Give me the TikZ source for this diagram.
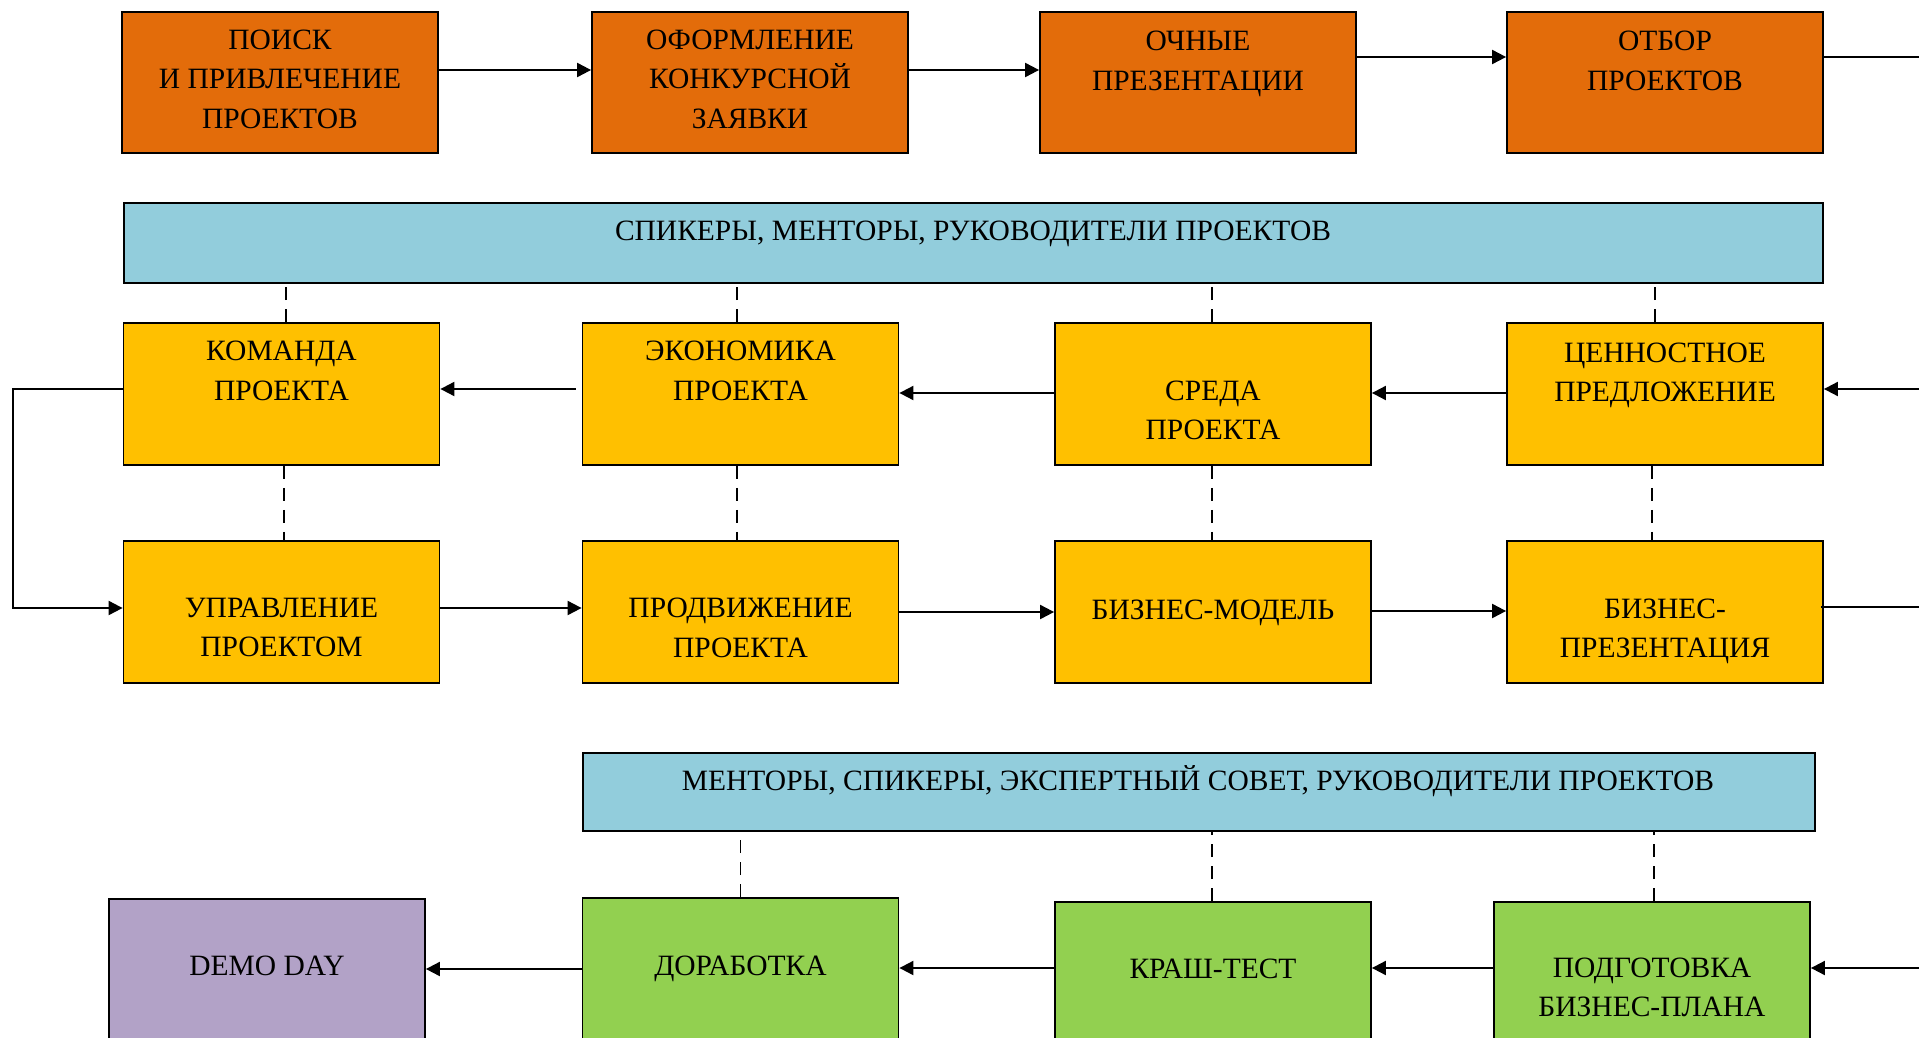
\documentclass[tikz,border=0pt]{standalone}
\usepackage{fontspec}
\setmainfont{Liberation Serif}
\usetikzlibrary{arrows.meta}
\definecolor{orng}{HTML}{E36C0A}
\definecolor{yel}{HTML}{FFC000}
\definecolor{blu}{HTML}{92CDDC}
\definecolor{grn}{HTML}{92D050}
\definecolor{prp}{HTML}{B2A2C7}
\tikzset{
  box/.style={draw=black, line width=1.8pt, minimum width=316pt, minimum height=142pt, inner sep=0pt},
  band/.style={draw=black, line width=1.8pt, inner sep=0pt, fill=blu},
  txt/.style={align=center, inner sep=0pt, font=\fontsize{29.5}{39.5}\selectfont},
  arr/.style={line width=2pt, -{Triangle[length=14pt,width=14pt]}},
  ln/.style={line width=2pt},
  dsh/.style={line width=1.8pt, dash pattern=on 13pt off 9pt},
}
\begin{document}
\begin{tikzpicture}[x=1pt,y=-1pt]
\useasboundingbox (0,0) rectangle (1919,1038);
% row 1
\node[box, fill=orng, minimum height=141pt] (b1) at (280,82.5) {};
\node[box, fill=orng, minimum height=141pt] (b2) at (750,82.5) {};
\node[box, fill=orng, minimum height=141pt] (b3) at (1198,82.5) {};
\node[box, fill=orng, minimum height=141pt] (b4) at (1665,82.5) {};
\node[txt] (b1t) at (280,79) {ПОИСК\\И ПРИВЛЕЧЕНИЕ\\ПРОЕКТОВ};
\node[txt] (b2t) at (750,79) {ОФОРМЛЕНИЕ\\КОНКУРСНОЙ\\ЗАЯВКИ};
\node[txt] (b3t) at (1198,64) {ОЧНЫЕ\\ПРЕЗЕНТАЦИИ};
\node[txt] (b4t) at (1665,61) {ОТБОР\\ПРОЕКТОВ};
% band 1
\node[band, minimum width=1699pt, minimum height=80pt] (s1) at (973.5,243) {};
\node[txt] (s1t) at (973,234) {СПИКЕРЫ, МЕНТОРЫ, РУКОВОДИТЕЛИ ПРОЕКТОВ};
% row 2
\node[box, fill=yel] (k1) at (281.5,394) {};
\node[box, fill=yel] (k2) at (740.5,394) {};
\node[box, fill=yel] (k3) at (1213,394) {};
\node[box, fill=yel] (k4) at (1665,394) {};
\node[txt] (k1t) at (281.5,371) {КОМАНДА\\ПРОЕКТА};
\node[txt] (k2t) at (740.5,371) {ЭКОНОМИКА\\ПРОЕКТА};
\node[txt] (k3t) at (1213,410.5) {СРЕДА\\ПРОЕКТА};
\node[txt] (k4t) at (1665,375.5) {ЦЕННОСТНОЕ\\ПРЕДЛОЖЕНИЕ};
% row 3
\node[box, fill=yel] (u1) at (281.5,612) {};
\node[box, fill=yel] (u2) at (740.5,612) {};
\node[box, fill=yel] (u3) at (1213,612) {};
\node[box, fill=yel] (u4) at (1665,612) {};
\node[txt] (u1t) at (281.5,627.5) {УПРАВЛЕНИЕ\\ПРОЕКТОМ};
\node[txt] (u2t) at (740.5,628) {ПРОДВИЖЕНИЕ\\ПРОЕКТА};
\node[txt] (u3t) at (1213,613) {БИЗНЕС-МОДЕЛЬ};
\node[txt] (u4t) at (1665,631.5) {БИЗНЕС-\\ПРЕЗЕНТАЦИЯ};
% band 2
\node[band, minimum width=1232pt, minimum height=78pt] (s2) at (1199,792) {};
\node[txt] (s2t) at (1198,781) {МЕНТОРЫ, СПИКЕРЫ, ЭКСПЕРТНЫЙ СОВЕТ, РУКОВОДИТЕЛИ ПРОЕКТОВ};
% row 4
\node[box, fill=prp] (d0) at (267,970) {};
\node[box, fill=grn] (d1) at (740.5,969) {};
\node[box, fill=grn] (d2) at (1213,973) {};
\node[box, fill=grn] (d3) at (1652,973) {};
\node[txt] (d0t) at (267,966) {DEMO DAY};
\node[txt] (d1t) at (740.5,969) {ДОРАБОТКА};
\node[txt] (d2t) at (1213,969) {КРАШ-ТЕСТ};
\node[txt] (d3t) at (1652,987.5) {ПОДГОТОВКА\\БИЗНЕС-ПЛАНА};
% free ends
\coordinate (e1) at (1919,57);
\coordinate (e2) at (1919,389);
\coordinate (e3) at (1919,607);
\coordinate (e4) at (1919,968);
\coordinate (lb) at (13,608);
% row 1 arrows
\draw[arr] ([yshift=12.5pt]b1.east) -- ([yshift=12.5pt]b2.west);
\draw[arr] ([yshift=12.5pt]b2.east) -- ([yshift=12.5pt]b3.west);
\draw[arr] ([yshift=25.5pt]b3.east) -- ([yshift=25.5pt]b4.west);
\draw[ln] ([yshift=25.5pt]b4.east) -- (e1);
% row 2 arrows
\draw[arr] (e2) -- (k4.east |- e2);
\draw[arr] ([xshift=2pt,yshift=1pt]k4.west) -- ([yshift=1pt]k3.east);
\draw[arr] ([yshift=1pt]k3.west) -- ([yshift=1pt]k2.east);
\draw[arr] ([xshift=-6pt,yshift=5pt]k2.west) -- ([yshift=5pt]k1.east);
% loop
\draw[arr] ([yshift=5pt]k1.west) -| (lb) -- (u1.west |- lb);
% row 3 arrows
\draw[arr] ([yshift=4pt]u1.east) -- ([yshift=4pt]u2.west);
\draw[arr] (u2.east) -- (u3.west);
\draw[arr] ([yshift=1pt]u3.east) -- ([yshift=1pt]u4.west);
\draw[ln] ([xshift=-3pt,yshift=5pt]u4.east) -- (e3);
% row 4 arrows
\draw[arr] (e4) -- (d3.east |- e4);
\draw[arr] ([yshift=5pt]d3.west) -- ([yshift=5pt]d2.east);
\draw[arr] ([yshift=5pt]d2.west) -- ([yshift=1pt]d1.east);
\draw[arr] (d1.west) -- ([yshift=1pt]d0.east);
% dashed links
\draw[dsh] ([xshift=4.5pt]k1.north) -- ([xshift=4.5pt]k1.north |- s1.south);
\draw[dsh] ([xshift=-3.5pt]k2.north) -- ([xshift=-3.5pt]k2.north |- s1.south);
\draw[dsh] ([xshift=-1pt]k3.north) -- ([xshift=-1pt]k3.north |- s1.south);
\draw[dsh] ([xshift=-10pt]k4.north) -- ([xshift=-10pt]k4.north |- s1.south);
\draw[dsh] ([xshift=2.5pt]k1.south) -- ([xshift=2.5pt]u1.north);
\draw[dsh] ([xshift=-3.5pt]k2.south) -- ([xshift=-3.5pt]u2.north);
\draw[dsh] ([xshift=-1pt]k3.south) -- ([xshift=-1pt]u3.north);
\draw[dsh] ([xshift=-13pt]k4.south) -- ([xshift=-13pt]u4.north);
\draw[dsh] (d1.north) -- (d1.north |- s2.south);
\draw[dsh] ([xshift=-1pt]d2.north) -- ([xshift=-1pt]d2.north |- s2.south);
\draw[dsh] ([xshift=2pt]d3.north) -- ([xshift=2pt]d3.north |- s2.south);
\end{tikzpicture}
\end{document}
